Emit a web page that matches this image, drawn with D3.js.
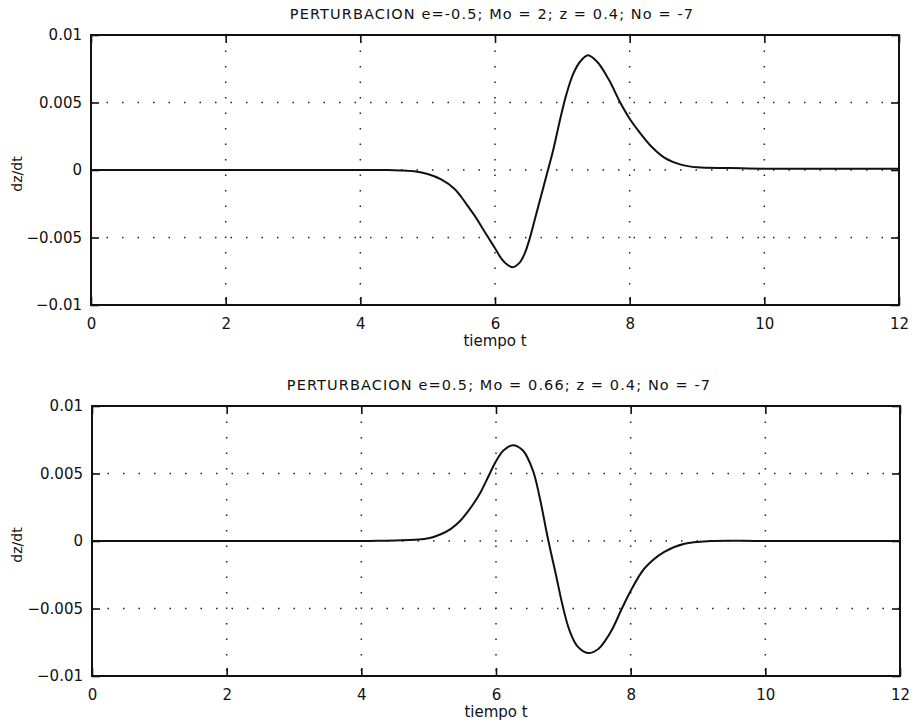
<!DOCTYPE html>
<html>
<head>
<meta charset="utf-8">
<script src="https://cdn.jsdelivr.net/npm/d3@7"></script>
<style>
  body { margin: 0; background: #fff; }
  svg { display: block; }
  text { font-family: "DejaVu Sans", "Liberation Sans", Arial, sans-serif; fill: #111; }
</style>
</head>
<body>
<div id="wrapper"></div>
<script>
let width = 914;
let height = 726;

// top panel: e=-0.5
let tTop = [0, 2, 4, 4.4, 4.6, 4.8, 5.0, 5.2, 5.4, 5.5, 5.6, 5.7, 5.8, 5.9, 6.0, 6.1, 6.18, 6.26, 6.36, 6.44, 6.52, 6.6, 6.68, 6.76, 6.87, 6.96, 7.06, 7.16, 7.26, 7.38, 7.52, 7.69, 7.86, 8.0, 8.13, 8.33, 8.52, 8.76, 9.0, 9.5, 10, 11, 12];
let dzTop = [0, 0, 0, 0, -0.00003, -0.0001, -0.0003, -0.0007, -0.0014, -0.0020, -0.0027, -0.0034, -0.0042, -0.0050, -0.0058, -0.0066, -0.0070, -0.0072, -0.0069, -0.0062, -0.0050, -0.0035, -0.0020, -0.0005, 0.0016, 0.0036, 0.0056, 0.0071, 0.0080, 0.0085, 0.0080, 0.0067, 0.0050, 0.0038, 0.0029, 0.0017, 0.0009, 0.0004, 0.0002, 0.00015, 0.0001, 0.0001, 0.0001];

// bottom panel: e=0.5
let tBot = [0, 2, 4, 4.3, 4.6, 4.8, 5.0, 5.18, 5.33, 5.47, 5.57, 5.67, 5.77, 5.86, 6.0, 6.11, 6.25, 6.4, 6.55, 6.65, 6.77, 6.89, 6.99, 7.09, 7.21, 7.37, 7.52, 7.62, 7.72, 7.87, 8.0, 8.21, 8.5, 8.8, 9.19, 10, 12];
let dzBot = [0, 0, 0, 0.00002, 0.00005, 0.0001, 0.0002, 0.0005, 0.0009, 0.0015, 0.0021, 0.0028, 0.0036, 0.0045, 0.0059, 0.0067, 0.0071, 0.0067, 0.0052, 0.0032, 0.0002, -0.0025, -0.0048, -0.0066, -0.0078, -0.0083, -0.0080, -0.0074, -0.0066, -0.0050, -0.0037, -0.0020, -0.0008, -0.0002, 0, 0, 0];

let xTicks = [0, 2, 4, 6, 8, 10, 12];
let yTicks = [-0.01, -0.005, 0, 0.005, 0.01];
let yTickLabels = ["\u22120.01", "\u22120.005", "0", "0.005", "0.01"];

let titles = [
  "PERTURBACION e=-0.5; Mo = 2; z = 0.4; No = -7",
  "PERTURBACION e=0.5; Mo = 0.66; z = 0.4; No = -7"
];
let xLabel = "tiempo t";
let yLabel = "dz/dt";

let svg = d3.select("#wrapper").append("svg")
  .attr("width", width)
  .attr("height", height);

// axes boxes in pixels
let panels = [
  { t: tTop, v: dzTop, x0: 91, x1: 899, y0: 35, y1: 305, tx: -3 },
  { t: tBot, v: dzBot, x0: 92, x1: 900, y0: 406, y1: 676, tx: 3 }
];

function drawPanel(p, i) {
  let x = d3.scaleLinear().domain([0, 12]).range([p.x0, p.x1]);
  let y = d3.scaleLinear().domain([-0.01, 0.01]).range([p.y1, p.y0]);
  let g = svg.append("g");

  // dotted grid
  g.selectAll(".gx").data(xTicks.slice(1, -1)).enter().append("line")
    .attr("x1", d => x(d)).attr("x2", d => x(d))
    .attr("y1", p.y0).attr("y2", p.y1)
    .style("stroke", "#222").style("stroke-width", 1.5)
    .style("stroke-dasharray", "1.5,14");
  g.selectAll(".gy").data(yTicks.slice(1, -1)).enter().append("line")
    .attr("x1", p.x0).attr("x2", p.x1)
    .attr("y1", d => y(d)).attr("y2", d => y(d))
    .style("stroke", "#222").style("stroke-width", 1.5)
    .style("stroke-dasharray", "1.5,14");

  let xAxis = d3.axisBottom(x).tickValues(xTicks).tickSize(-8).tickPadding(13).tickFormat(d3.format("d"));
  let xAxisTop = d3.axisTop(x).tickValues(xTicks).tickSize(-8).tickFormat("");
  let yAxis = d3.axisLeft(y).tickValues(yTicks).tickSize(-8).tickPadding(9)
    .tickFormat((d, k) => yTickLabels[k]);
  let yAxisRight = d3.axisRight(y).tickValues(yTicks).tickSize(-8).tickFormat("");

  let ax = [
    g.append("g").attr("transform", "translate(0," + p.y1 + ")").call(xAxis),
    g.append("g").attr("transform", "translate(0," + p.y0 + ")").call(xAxisTop),
    g.append("g").attr("transform", "translate(" + p.x0 + ",0)").call(yAxis),
    g.append("g").attr("transform", "translate(" + p.x1 + ",0)").call(yAxisRight)
  ];
  ax.forEach(a => {
    a.select(".domain").remove();
    a.selectAll(".tick line").style("stroke", "#111").style("stroke-width", 1.6);
    a.selectAll("text").style("font-size", "15px").style("fill", "#111")
      .style("font-family", "'DejaVu Sans', sans-serif");
  });

  g.append("rect")
    .attr("x", p.x0).attr("y", p.y0)
    .attr("width", p.x1 - p.x0).attr("height", p.y1 - p.y0)
    .style("fill", "none").style("stroke", "#111").style("stroke-width", 2);

  let line = d3.line()
    .x(d => x(d[0]))
    .y(d => y(d[1]))
    .curve(d3.curveCatmullRom.alpha(0.5));
  g.append("path")
    .datum(d3.zip(p.t, p.v))
    .attr("d", line)
    .style("fill", "none").style("stroke", "#111").style("stroke-width", 2);

  g.append("text")
    .attr("x", (p.x0 + p.x1) / 2 + p.tx).attr("y", p.y0 - 16)
    .attr("text-anchor", "middle")
    .style("font-size", "14.5px")
    .style("letter-spacing", "1.1px")
    .text(titles[i]);

  g.append("text")
    .attr("x", (p.x0 + p.x1) / 2).attr("y", p.y1 + 41)
    .attr("text-anchor", "middle")
    .style("font-size", "15px")
    .text(xLabel);

  g.append("text")
    .attr("transform", "translate(22," + ((p.y0 + p.y1) / 2 + 4) + ") rotate(-90)")
    .attr("text-anchor", "middle")
    .style("font-size", "14px")
    .text(yLabel);
}

panels.forEach(drawPanel);
</script>
</body>
</html>
